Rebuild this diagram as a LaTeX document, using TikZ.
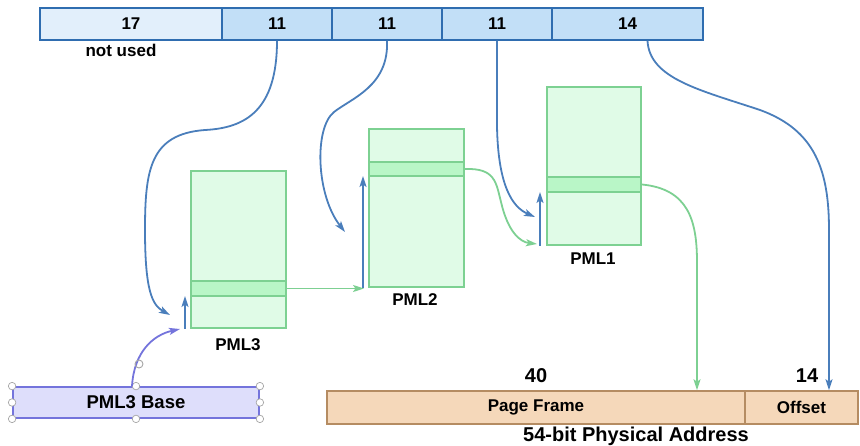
\documentclass[tikz,border=0pt]{standalone}
\usepackage{fontspec}
\setmainfont{Liberation Sans}
\usetikzlibrary{arrows.meta,calc}
\definecolor{barstroke}{HTML}{2F6DB0}
\definecolor{barfillA}{HTML}{E2EFFB}
\definecolor{barfillB}{HTML}{C2DFF7}
\definecolor{tabfill}{HTML}{E0FBE7}
\definecolor{tabstroke}{HTML}{7DD192}
\definecolor{rowfill}{HTML}{B9F6C7}
\definecolor{bluearr}{HTML}{4A7EBB}
\definecolor{greenarr}{HTML}{7DD092}
\definecolor{purpfill}{HTML}{DEDEFB}
\definecolor{purpstroke}{HTML}{7474DC}
\definecolor{peachfill}{HTML}{F5D8BA}
\definecolor{peachstroke}{HTML}{B58C62}
\tikzset{
  lblfont/.style={font=\bfseries\fontsize{17}{18}\selectfont},
  seg/.style={draw=barstroke,line width=1.5pt,minimum height=32pt,inner sep=0pt,lblfont},
  tab/.style={draw=tabstroke,fill=tabfill,line width=2pt,inner sep=0pt},
  tabrow/.style={draw=tabstroke,fill=rowfill,line width=2pt,inner sep=0pt},
  lbl/.style={lblfont,inner sep=0pt},
  big/.style={font=\bfseries\fontsize{20}{21}\selectfont,inner sep=0pt},
  tip/.style={-{Stealth[length=11pt,width=7pt,inset=2.5pt]}},
  barr/.style={draw=bluearr,line width=1.8pt,tip},
  garr/.style={draw=greenarr,line width=1.8pt,tip},
  parr/.style={draw=purpstroke,line width=1.8pt,tip},
  handle/.style={draw=gray!70,fill=white,line width=0.7pt,circle,inner sep=0pt,minimum size=7.5pt},
  pbox/.style={draw=peachstroke,fill=peachfill,line width=1.5pt,minimum height=33pt,inner sep=0pt,lblfont}
}
\begin{document}
\begin{tikzpicture}[x=1pt,y=-1pt]
\useasboundingbox (0,0) rectangle (860,446);
% top bar
\node[seg,fill=barfillA,minimum width=182pt] (s17) at (131,24) {17};
\node[seg,fill=barfillB,minimum width=110pt] (s11a) at (277,24) {11};
\node[seg,fill=barfillB,minimum width=110pt] (s11b) at (387,24) {11};
\node[seg,fill=barfillB,minimum width=110pt] (s11c) at (497,24) {11};
\node[seg,fill=barfillB,minimum width=151pt] (s14) at (627.5,24) {14};
\node[lbl] (nu) at (121,50) {not used};
% tables
\node[tab,minimum width=95pt,minimum height=157pt] (t3) at (238.5,249.5) {};
\node[tabrow,minimum width=95pt,minimum height=15pt] (r3) at (238.5,288.5) {};
\node[tab,minimum width=95pt,minimum height=158pt] (t2) at (416.5,208) {};
\node[tabrow,minimum width=95pt,minimum height=14pt] (r2) at (416.5,169) {};
\node[tab,minimum width=94pt,minimum height=158pt] (t1) at (594,166) {};
\node[tabrow,minimum width=94pt,minimum height=15pt] (r1) at (594,184.5) {};
\node[lbl] (l3) at (238,345) {PML3};
\node[lbl] (l2) at (415,300) {PML2};
\node[lbl] (l1) at (593,259) {PML1};
% bottom boxes
\node[draw=purpstroke,fill=purpfill,line width=1.8pt,minimum width=246pt,minimum height=31pt,inner sep=0pt,font=\bfseries\fontsize{18.5}{19}\selectfont] (base) at (136,402.5) {PML3 Base};
\node[pbox,minimum width=418pt] (pf) at (536,407.5) {Page Frame};
\node[pbox,minimum width=113pt] (off) at (801.5,407.5) {Offset};
\node[big] (n40) at (536,376) {40};
\node[big] (n14) at (807,376) {14};
\node[big] (cap) at (636,436) {54-bit Physical Address};
% handles
\foreach \p/\n in {north west/a,north/b,north east/c,west/d,east/e,south west/f,south/g,south east/h}
  \node[handle] (h\n) at (base.\p) {};
% coordinates
\coordinate (e1) at (170,315);
\coordinate (e2) at (345,232);
\coordinate (e3) at (535,217);
\coordinate (pe) at (180,329);
\coordinate (g2) at (537,244);
% blue curves from the bar
\draw[barr] (s11a.south) .. controls ($(s11a.south)+(0,70)$) and (245,128) .. (205,130)
  .. controls (150,134) and (145,170) .. (145,230)
  .. controls (145,290) and (152,305) .. (e1);
\draw[barr] (s11b.south) .. controls ($(s11b.south)+(2,45)$) and (352,98) .. (334,112)
  .. controls (314,128) and (316,195) .. (e2);
\draw[barr] (s11c.south) -- ($(s11c.south)+(0,85)$) .. controls (498,185) and (512,207) .. (e3);
\draw[barr] ($(s14.south)+(20,0)$) .. controls ($(s14.south)+(22,38)$) and (700,90) .. (760,110)
  .. controls (815,130) and (829,170) .. (829,230) -- (off.north -| 829,0);
% vertical offset arrows
\draw[barr] ($(t3.south west)+(-5,0)$) -- ($(r3.south west)+(-5,-1)$);
\draw[barr] ($(t2.south west)+(-5,0)$) -- ($(r2.south west)+(-5,-1)$);
\draw[barr] ($(t1.south west)+(-6,0)$) -- ($(r1.south west)+(-6,-1)$);
% green connectors
\draw[garr] (r3.east) -- ($(r3.east)+(77,0)$);
\draw[garr] (r2.east) .. controls (495,168) and (496,182) .. (501,202)
  .. controls (508,232) and (520,242) .. (g2);
\draw[garr] (r1.east) .. controls (688,189) and (697,220) .. (697,262) -- (pf.north -| 697,0);
% purple connector
\draw[parr] ($(base.north)+(-4,0)$) .. controls (134,352) and (153,335) .. (pe);
% rotate icon
\draw[gray!70,line width=0.9pt] (139,364) circle (4pt);
\end{tikzpicture}
\end{document}
